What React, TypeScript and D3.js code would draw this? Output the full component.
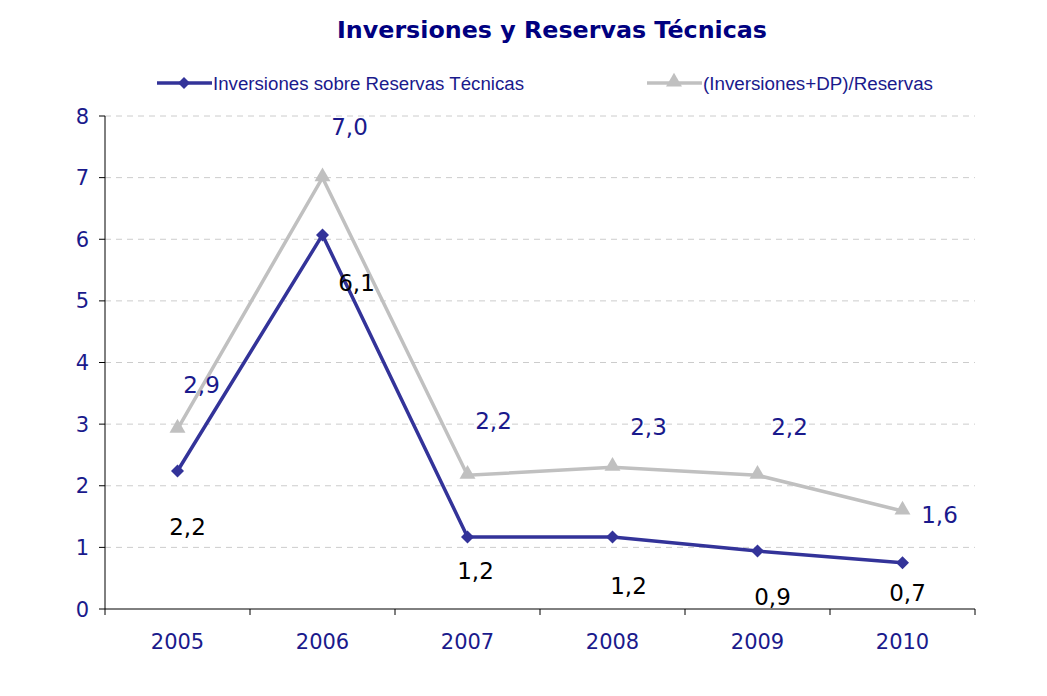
import React from "react";
import * as d3 from "d3";

const categories = ["2005", "2006", "2007", "2008", "2009", "2010"];
const seriesInversiones = [2.24, 6.07, 1.17, 1.17, 0.94, 0.75];
const seriesInvDP = [2.92, 7.0, 2.17, 2.3, 2.17, 1.59];
const labelsInversiones = ["2,2", "6,1", "1,2", "1,2", "0,9", "0,7"];
const labelsInvDP = ["2,9", "7,0", "2,2", "2,3", "2,2", "1,6"];
const yTicks = [0, 1, 2, 3, 4, 5, 6, 7, 8];
const seriesNames = ["Inversiones sobre Reservas Técnicas", "(Inversiones+DP)/Reservas"];

// label offsets (dx, dy) of label centre relative to the point
const offInv: [number, number][] = [[10, 56], [34, 48], [8, 34], [16, 49], [15, 46], [5, 30]];
const offDP: [number, number][] = [[24, -44], [27, -51], [26, -54], [36, -40], [32, -48], [37, 4]];

const W = 1047, H = 696;
const left = 105, right = 975, top = 116, bottom = 609;
const BLUE = "#333399";
const GRAY = "#c0c0c0";
const TEXT_BLUE = "#1a1a8c";

export default function App() {
  const x = d3.scaleBand<string>().domain(categories).range([left, right]);
  const y = d3.scaleLinear().domain([0, 8]).range([bottom, top]);
  const cx = (c: string) => (x(c) as number) + x.bandwidth() / 2;
  const line = d3.line<number>().x((_, i) => cx(categories[i])).y((d) => y(d));
  const tri = d3.symbol().type(d3.symbolTriangle).size(110)();
  const dia = (s: number) => `M0,${-s}L${s},0L0,${s}L${-s},0Z`;
  const font = "'DejaVu Sans', Verdana, sans-serif";
  const arial = "'Liberation Sans', Arial, sans-serif";
  const boundaries = categories.map((c) => x(c) as number).concat([right]);

  return (
    <svg width={W} height={H} style={{ position: "absolute", left: 0, top: 0 }} fontFamily={font}>
      <rect width={W} height={H} fill="#fff" />
      <text x={337} y={38} fontWeight="bold" fontSize={23} fill="#000080" textLength={430} lengthAdjust="spacingAndGlyphs">
        Inversiones y Reservas Técnicas
      </text>
      {/* legend */}
      <g>
        <line x1={157} x2={212} y1={83} y2={83} stroke={BLUE} strokeWidth={3.5} />
        <path d={dia(6)} transform="translate(184,83)" fill={BLUE} />
        <text x={213} y={90} fontSize={18} fill={TEXT_BLUE} fontFamily={arial} textLength={311} lengthAdjust="spacingAndGlyphs">
          {seriesNames[0]}
        </text>
        <line x1={647} x2={702} y1={83} y2={83} stroke={GRAY} strokeWidth={3.5} />
        <path d={tri} transform="translate(674,82)" fill={GRAY} />
        <text x={703} y={90} fontSize={18} fill={TEXT_BLUE} fontFamily={arial} textLength={230} lengthAdjust="spacingAndGlyphs">
          {seriesNames[1]}
        </text>
      </g>
      {/* gridlines */}
      {yTicks.filter((t) => t > 0).map((t) => (
        <line key={t} x1={left} x2={right} y1={y(t)} y2={y(t)} stroke="#cccccc" strokeDasharray="6,5" strokeWidth={1} />
      ))}
      {/* axes */}
      <line x1={left} x2={left} y1={top} y2={bottom} stroke="#000" />
      <line x1={left} x2={right} y1={bottom} y2={bottom} stroke="#000" />
      {yTicks.map((t) => (
        <g key={t}>
          <line x1={left - 6} x2={left} y1={y(t)} y2={y(t)} stroke="#000" />
          <text x={89} y={y(t) + 7.5} textAnchor="end" fontSize={21} fill={TEXT_BLUE}>{t}</text>
        </g>
      ))}
      {boundaries.map((b, i) => (
        <line key={i} x1={b} x2={b} y1={bottom} y2={bottom + 6} stroke="#000" />
      ))}
      {categories.map((c) => (
        <text key={c} x={cx(c)} y={649} textAnchor="middle" fontSize={21} fill={TEXT_BLUE}>{c}</text>
      ))}
      {/* series */}
      <path d={line(seriesInvDP) as string} fill="none" stroke={GRAY} strokeWidth={3.5} />
      {seriesInvDP.map((v, i) => (
        <path key={i} d={tri} transform={`translate(${cx(categories[i])},${y(v) - 1})`} fill={GRAY} />
      ))}
      <path d={line(seriesInversiones) as string} fill="none" stroke={BLUE} strokeWidth={3.5} />
      {seriesInversiones.map((v, i) => (
        <path key={i} d={dia(6.5)} transform={`translate(${cx(categories[i])},${y(v)})`} fill={BLUE} />
      ))}
      {/* labels */}
      {seriesInvDP.map((v, i) => (
        <text key={i} x={cx(categories[i]) + offDP[i][0]} y={y(v) + offDP[i][1] + 8} textAnchor="middle" fontSize={23} fill={TEXT_BLUE}>
          {labelsInvDP[i]}
        </text>
      ))}
      {seriesInversiones.map((v, i) => (
        <text key={i} x={cx(categories[i]) + offInv[i][0]} y={y(v) + offInv[i][1] + 8} textAnchor="middle" fontSize={23} fill="#000">
          {labelsInversiones[i]}
        </text>
      ))}
    </svg>
  );
}
